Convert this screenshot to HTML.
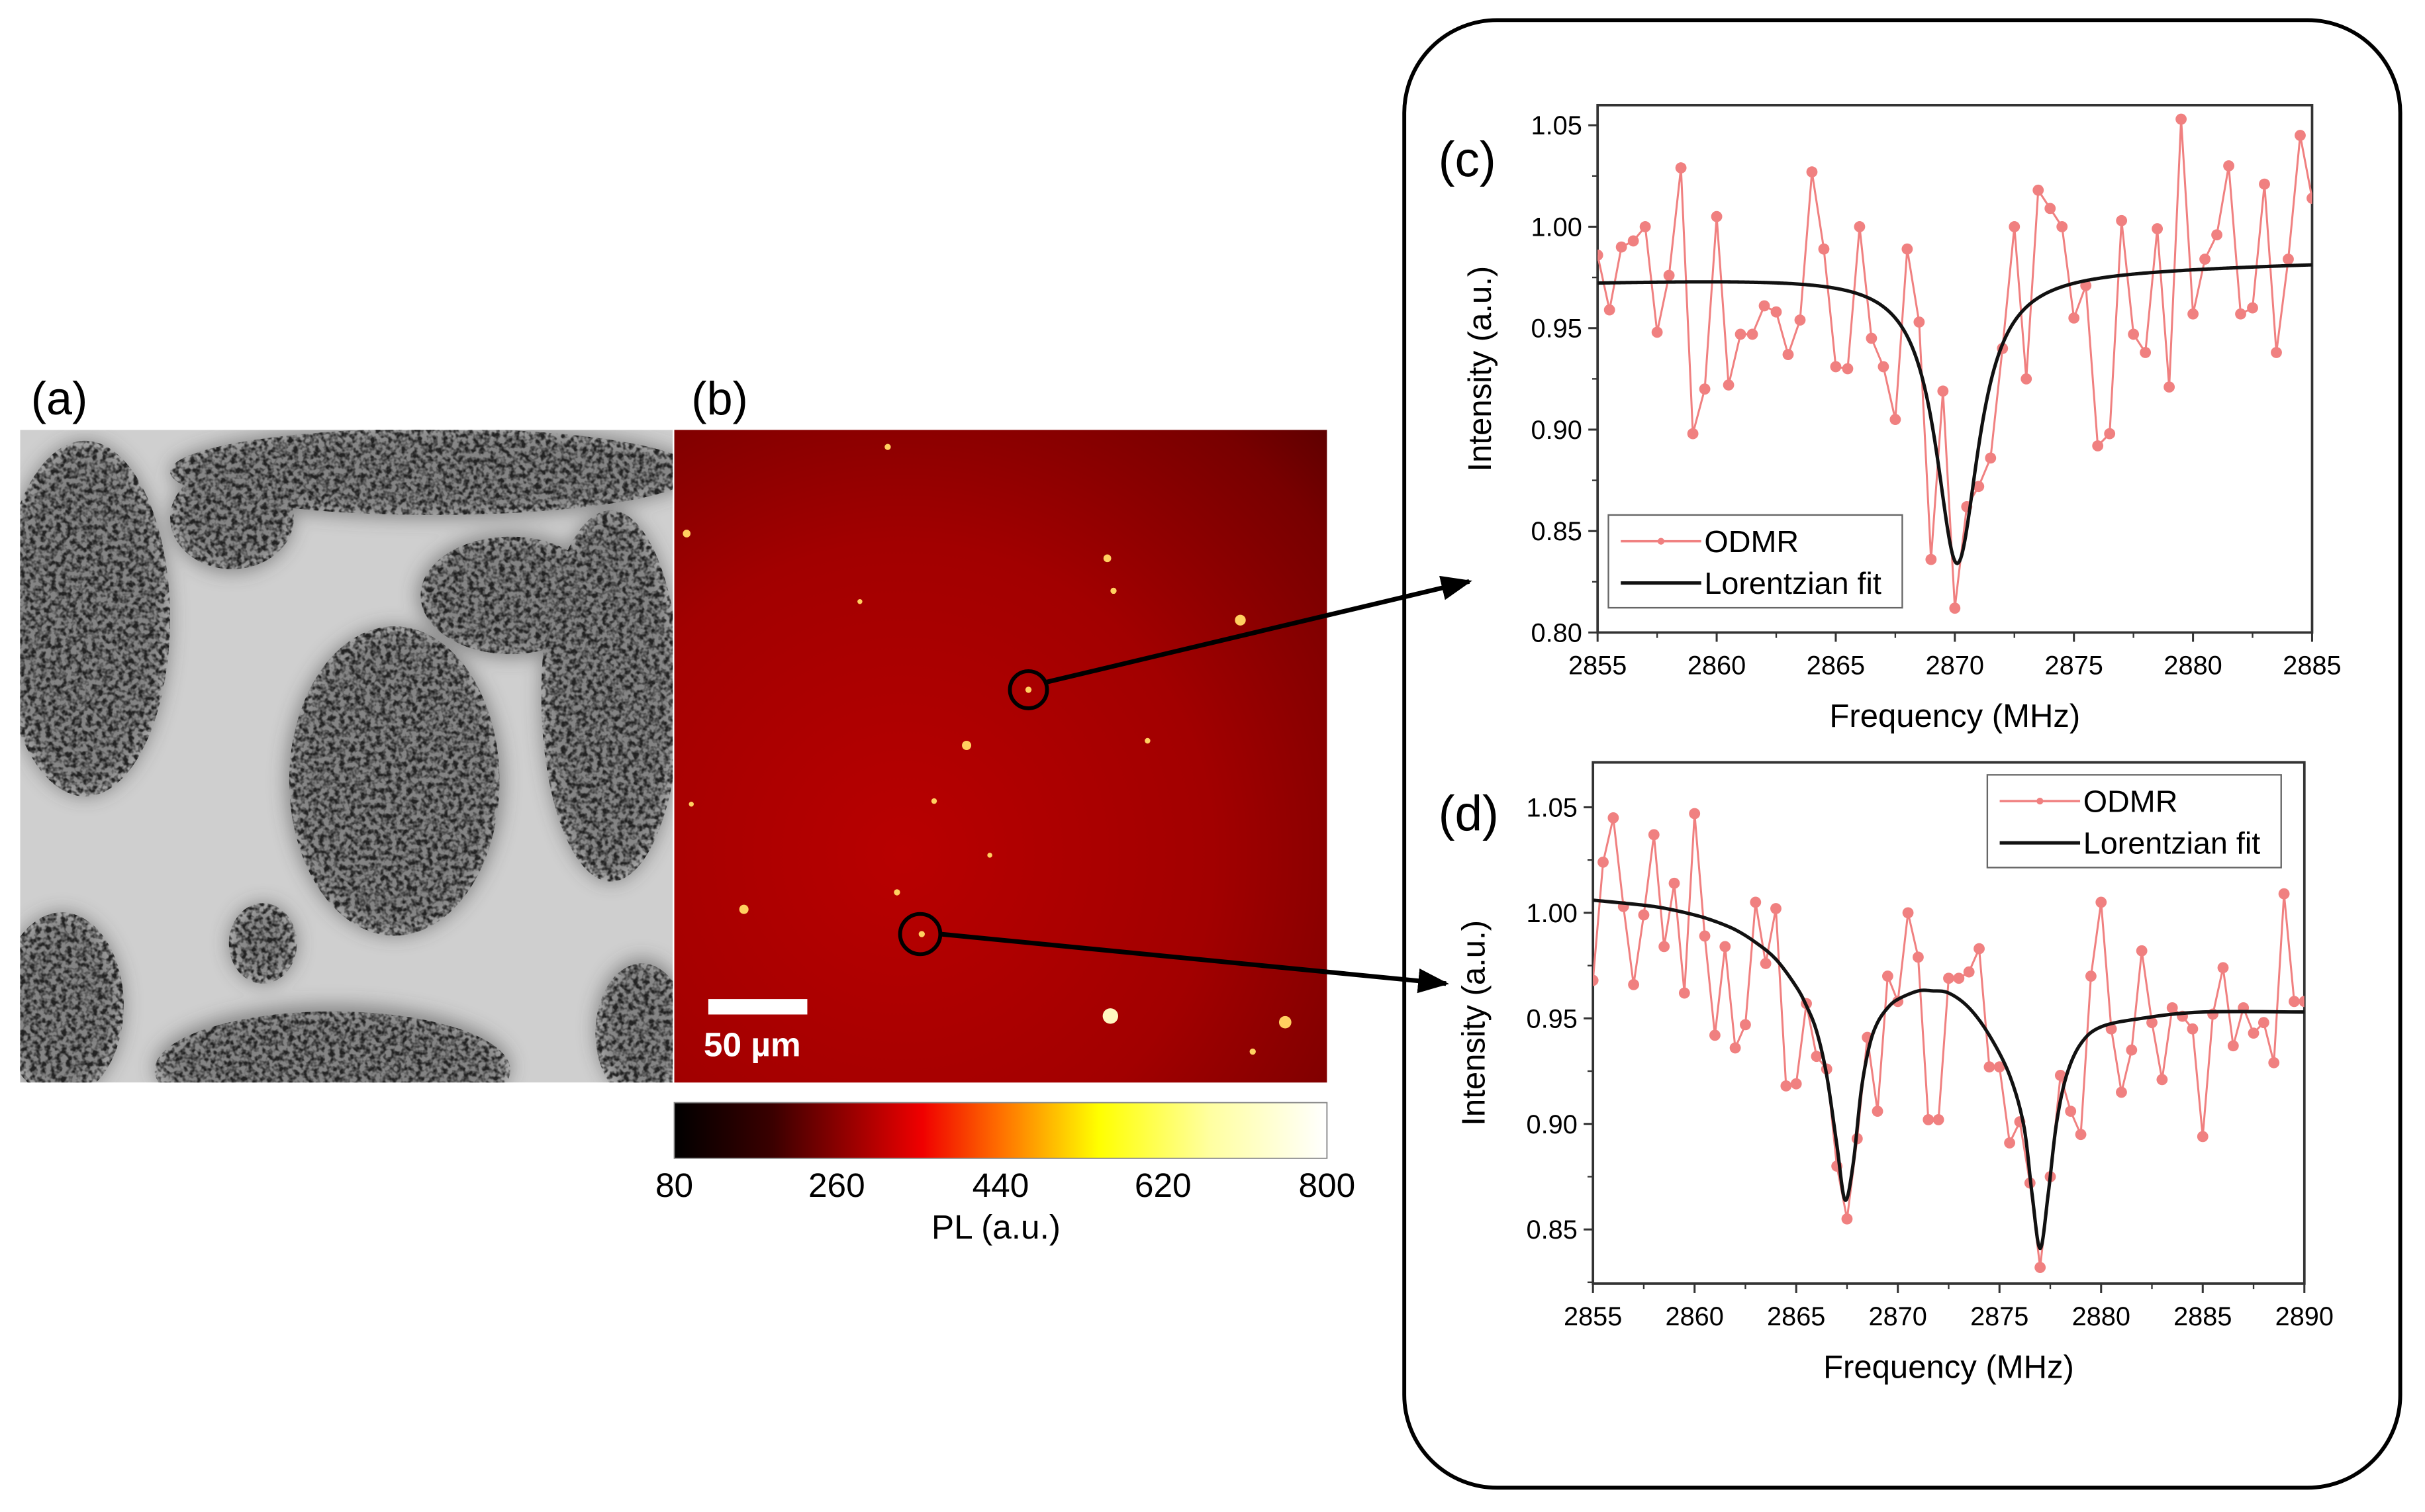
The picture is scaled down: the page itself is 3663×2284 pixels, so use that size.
<!DOCTYPE html>
<html><head><meta charset="utf-8"><style>
html,body{margin:0;padding:0;background:#fff;}
svg{display:block;font-family:"Liberation Sans",Arial,sans-serif;}
</style></head><body>
<svg id="fig" width="3663" height="2284" viewBox="0 0 1568 977.7" preserveAspectRatio="none" xmlns="http://www.w3.org/2000/svg">
<defs>
<filter id="speck" x="0" y="0" width="100%" height="100%">
<feTurbulence type="fractalNoise" baseFrequency="0.3" numOctaves="2" seed="3" result="n"/>
<feColorMatrix in="n" type="matrix" values="0 0 0 0 0  0 0 0 0 0  0 0 0 0 0  0 0 0 -3 1.85" result="m"/>
<feComposite in="SourceGraphic" in2="m" operator="in"/>
</filter>
<filter id="blur3"><feGaussianBlur stdDeviation="6"/></filter>
<radialGradient id="redbg" cx="0.35" cy="0.65" r="0.95">
<stop offset="0" stop-color="#b80000"/><stop offset="0.5" stop-color="#a20000"/><stop offset="0.85" stop-color="#780000"/><stop offset="1" stop-color="#580000"/>
</radialGradient>
<linearGradient id="cbar" x1="0" x2="1" y1="0" y2="0">
<stop offset="0" stop-color="#000"/><stop offset="0.15" stop-color="#3a0000"/><stop offset="0.3" stop-color="#b00000"/>
<stop offset="0.38" stop-color="#f00000"/><stop offset="0.5" stop-color="#ff7000"/><stop offset="0.65" stop-color="#ffff00"/>
<stop offset="0.82" stop-color="#ffffa0"/><stop offset="1" stop-color="#fff"/>
</linearGradient>
<marker id="ah2" markerWidth="20" markerHeight="16" refX="18" refY="8" orient="auto" markerUnits="userSpaceOnUse"><path d="M0,0 L20,8 L0,16 z" fill="#000"/></marker>
<clipPath id="clipA"><rect x="13" y="278" width="422" height="422"/></clipPath>
<clipPath id="clipC"><rect x="1033" y="68" width="462" height="341"/></clipPath>
<clipPath id="clipD"><rect x="1030" y="493" width="460" height="337"/></clipPath>
</defs>

<!-- Panel a -->
<text x="20" y="268" font-size="30">(a)</text>
<g clip-path="url(#clipA)">
<rect x="13" y="278" width="422" height="422" fill="#cfcfcf"/>
<g fill="#3a3a3a" filter="url(#blur3)" opacity="0.5">
<ellipse cx="55" cy="400" rx="55" ry="115"/><ellipse cx="280" cy="305" rx="170" ry="30"/>
<ellipse cx="255" cy="505" rx="70" ry="100"/><ellipse cx="395" cy="450" rx="45" ry="120"/>
<ellipse cx="40" cy="650" rx="40" ry="60"/><ellipse cx="215" cy="690" rx="115" ry="40"/>
<ellipse cx="415" cy="665" rx="30" ry="45"/><ellipse cx="330" cy="385" rx="60" ry="40"/>
<ellipse cx="170" cy="610" rx="22" ry="26"/><ellipse cx="150" cy="335" rx="40" ry="35"/>
</g>
<g fill="#222" filter="url(#speck)">
<ellipse cx="55" cy="400" rx="55" ry="115"/><ellipse cx="280" cy="305" rx="170" ry="28"/>
<ellipse cx="255" cy="505" rx="68" ry="100"/><ellipse cx="395" cy="450" rx="45" ry="120"/>
<ellipse cx="40" cy="650" rx="40" ry="60"/><ellipse cx="215" cy="692" rx="115" ry="38"/>
<ellipse cx="415" cy="668" rx="30" ry="45"/><ellipse cx="330" cy="385" rx="58" ry="38"/>
<ellipse cx="170" cy="610" rx="22" ry="26"/><ellipse cx="150" cy="335" rx="40" ry="33"/>
</g>
</g>

<!-- Panel b -->
<text x="447" y="268" font-size="30">(b)</text>
<g>
<rect x="436" y="278" width="422" height="422" fill="url(#redbg)"/>
<g fill="#ffd060">
<circle cx="718" cy="657" r="5" fill="#fff8c0"/><circle cx="831" cy="661" r="4"/><circle cx="802" cy="401" r="3.5"/>
<circle cx="625" cy="482" r="3"/><circle cx="481" cy="588" r="3"/><circle cx="444" cy="345" r="2.5"/>
<circle cx="716" cy="361" r="2.5"/><circle cx="580" cy="577" r="2"/><circle cx="665" cy="446" r="2"/>
<circle cx="596" cy="604" r="2"/><circle cx="810" cy="680" r="2"/><circle cx="574" cy="289" r="2"/>
<circle cx="720" cy="382" r="2"/><circle cx="604" cy="518" r="1.8"/><circle cx="742" cy="479" r="1.8"/>
<circle cx="556" cy="389" r="1.6"/><circle cx="447" cy="520" r="1.6"/><circle cx="640" cy="553" r="1.6"/>
</g>
<rect x="458" y="646" width="64" height="10" fill="#fff"/>
<text x="455" y="683" font-size="22" font-weight="bold" fill="#fff">50 µm</text>
<circle cx="665" cy="446" r="12" fill="none" stroke="#000" stroke-width="2.5"/>
<circle cx="595" cy="604" r="13" fill="none" stroke="#000" stroke-width="2.5"/>
</g>
<line x1="677" y1="441" x2="950" y2="376" stroke="#000" stroke-width="3" marker-end="url(#ah2)"/>
<line x1="608" y1="604" x2="935" y2="636" stroke="#000" stroke-width="3" marker-end="url(#ah2)"/>

<!-- Colorbar -->
<g>
<rect x="436" y="713" width="422" height="36" fill="url(#cbar)" stroke="#888" stroke-width="0.8"/>
<g font-size="22" text-anchor="middle">
<text x="436" y="774">80</text><text x="541" y="774">260</text><text x="647" y="774">440</text><text x="752" y="774">620</text><text x="858" y="774">800</text>
</g>
<text x="644" y="801" font-size="22" text-anchor="middle">PL (a.u.)</text>
</g>

<rect x="908" y="13" width="644" height="949" rx="60" ry="60" fill="none" stroke="#000" stroke-width="2.5"/>
<text x="930" y="114" font-size="32">(c)</text>
<text x="930" y="537" font-size="32">(d)</text>
<g id="chartC"></g>
<g id="chartD"></g>
</svg>
<script>
// ---- Chart C data ----
const cFreqStart = 2855, cFreqStep = 0.5;
const cValues = [0.986,0.959,0.990,0.993,1.000,0.948,0.976,1.029,0.898,0.920,1.005,0.922,0.947,0.947,0.961,0.958,0.937,0.954,1.027,0.989,0.931,0.930,1.000,0.945,0.931,0.905,0.989,0.953,0.836,0.919,0.812,0.862,0.872,0.886,0.940,1.000,0.925,1.018,1.009,1.000,0.955,0.971,0.892,0.898,1.003,0.947,0.938,0.999,0.921,1.053,0.957,0.984,0.996,1.030,0.957,0.960,1.021,0.938,0.984,1.045,1.014];
const cFitCenter = [2870.1];
const cFitDepth = [0.1435];
const cFitHwhm = [1.1];
const cFitBase = [0.973, 0.982];
const cXTicks = [2855,2860,2865,2870,2875,2880,2885];
const cYTicks = [0.80,0.85,0.90,0.95,1.00,1.05];
// ---- Chart D data ----
const dFreqStart = 2855, dFreqStep = 0.5;
const dValues = [0.968,1.024,1.045,1.003,0.966,0.999,1.037,0.984,1.014,0.962,1.047,0.989,0.942,0.984,0.936,0.947,1.005,0.976,1.002,0.918,0.919,0.957,0.932,0.926,0.880,0.855,0.893,0.941,0.906,0.970,0.958,1.000,0.979,0.902,0.902,0.969,0.969,0.972,0.983,0.927,0.927,0.891,0.901,0.872,0.832,0.875,0.923,0.906,0.895,0.970,1.005,0.945,0.915,0.935,0.982,0.948,0.921,0.955,0.951,0.945,0.894,0.952,0.974,0.937,0.955,0.943,0.948,0.929,1.009,0.958,0.958];
const dFitX = [2855,2858,2860,2861,2862,2863,2864,2865,2865.5,2866,2866.5,2867,2867.4,2867.8,2868.2,2868.6,2869,2869.5,2870,2871,2871.7,2872.5,2873.5,2874.5,2875.5,2876.2,2876.6,2877,2877.4,2877.8,2878.3,2879,2880,2882,2885,2890];
const dFitY = [1.006,1.003,0.999,0.996,0.992,0.986,0.978,0.965,0.956,0.944,0.923,0.890,0.864,0.881,0.916,0.937,0.948,0.955,0.959,0.963,0.963,0.962,0.955,0.942,0.923,0.899,0.867,0.841,0.867,0.900,0.923,0.938,0.946,0.950,0.953,0.953];
const dXTicks = [2855,2860,2865,2870,2875,2880,2885,2890];
const dYTicks = [0.85,0.90,0.95,1.00,1.05];

const NS = "http://www.w3.org/2000/svg";
function mk(parent, tag, attrs, text){
  const e = document.createElementNS(NS, tag);
  for (const k in attrs) e.setAttribute(k, attrs[k]);
  if (text !== undefined) e.textContent = text;
  parent.appendChild(e);
  return e;
}
function lorentz(x){
  const t = (x - cFreqStart) / 30;
  let y = cFitBase[0] + (cFitBase[1] - cFitBase[0]) * t;
  for (let i = 0; i < cFitCenter.length; i++) {
    const u = (x - cFitCenter[i]) / cFitHwhm[i];
    y -= cFitDepth[i] / (1 + u * u);
  }
  return y;
}
function smoothPath(pts){
  let d = "M" + pts[0][0].toFixed(2) + "," + pts[0][1].toFixed(2);
  for (let i = 0; i < pts.length - 1; i++) {
    const p0 = pts[Math.max(0, i - 1)], p1 = pts[i], p2 = pts[i + 1], p3 = pts[Math.min(pts.length - 1, i + 2)];
    const c1 = [p1[0] + (p2[0] - p0[0]) / 6, p1[1] + (p2[1] - p0[1]) / 6];
    const c2 = [p2[0] - (p3[0] - p1[0]) / 6, p2[1] - (p3[1] - p1[1]) / 6];
    d += " C" + c1.join(",") + " " + c2.join(",") + " " + p2[0] + "," + p2[1];
  }
  return d;
}
function drawChart(g, cfg){
  const X = v => cfg.x0 + (v - cfg.xmin) / (cfg.xmax - cfg.xmin) * (cfg.x1 - cfg.x0);
  const Y = v => cfg.yAt0 + (v - cfg.yv0) / (cfg.yv1 - cfg.yv0) * (cfg.yAt1 - cfg.yAt0);
  const frame = mk(g, "rect", {x: cfg.x0, y: cfg.top, width: cfg.x1 - cfg.x0, height: cfg.bottom - cfg.top, fill: "none", stroke: "#333", "stroke-width": 1.6});
  
  
  const xa = mk(g, "g", {"font-size": 17, "text-anchor": "middle"});
  
  
  cfg.xticks.forEach((t, i) => {
    const px = X(t);
    mk(xa, "line", {x1: px, x2: px, y1: cfg.bottom, y2: cfg.bottom + 6, stroke: "#333", "stroke-width": 1.3});
    if (i < cfg.xticks.length - 1) {
      const pm = X(t + 2.5);
      mk(xa, "line", {x1: pm, x2: pm, y1: cfg.bottom, y2: cfg.bottom + 3.5, stroke: "#333", "stroke-width": 1});
    }
    const lb = mk(xa, "text", {x: px, y: cfg.bottom + 27}, String(t));
    
    
  });
  const ya = mk(g, "g", {"font-size": 17, "text-anchor": "end"});
  
  
  cfg.yticks.forEach((t, i) => {
    const py = Y(t);
    mk(ya, "line", {x1: cfg.x0 - 6, x2: cfg.x0, y1: py, y2: py, stroke: "#333", "stroke-width": 1.3});
    const pm = Y(t - 0.025);
    if (pm < cfg.bottom) mk(ya, "line", {x1: cfg.x0 - 3.5, x2: cfg.x0, y1: pm, y2: pm, stroke: "#333", "stroke-width": 1});
    const lb = mk(ya, "text", {x: cfg.x0 - 10, y: py + 6}, t.toFixed(2));
    
    
  });
  const xt = mk(g, "text", {x: (cfg.x0 + cfg.x1) / 2, y: cfg.bottom + 61, "font-size": 21, "text-anchor": "middle"}, "Frequency (MHz)");
  
  
  const yc = (cfg.top + cfg.bottom) / 2;
  const yt = mk(g, "text", {x: cfg.ytx, y: yc, "font-size": 21, "text-anchor": "middle", transform: "rotate(-90 " + cfg.ytx + " " + yc + ")"}, "Intensity (a.u.)");
  
  
  const plot = mk(g, "g", {"clip-path": cfg.clip});
  const pts = cfg.values.map((v, i) => [X(cfg.fs + i * cfg.step), Y(v)]);
  const ln = mk(plot, "polyline", {points: pts.map(p => p.join(",")).join(" "), fill: "none", stroke: "#f08080", "stroke-width": 1.3});
  
  
  pts.forEach(p => {
    const c = mk(plot, "circle", {cx: p[0], cy: p[1], r: 3.6, fill: "#f08080"});
    
    
  });
  const fitPts = cfg.fitPts.map(p => [X(p[0]), Y(p[1])]);
  const fp = mk(plot, "path", {d: cfg.smooth ? smoothPath(fitPts) : "M" + fitPts.map(p => p.join(",")).join(" L"), fill: "none", stroke: "#111", "stroke-width": 2.2});
  
  
  const L = cfg.leg;
  const lg = mk(g, "g", {});
  
  
  mk(lg, "rect", {x: L.x, y: L.y, width: 190, height: 60, fill: "#fff", stroke: "#666", "stroke-width": 1});
  mk(lg, "line", {x1: L.x + 8, x2: L.x + 60, y1: L.y + 17, y2: L.y + 17, stroke: "#f08080", "stroke-width": 1.5});
  mk(lg, "circle", {cx: L.x + 34, cy: L.y + 17, r: 2.2, fill: "#f08080"});
  const t1 = mk(lg, "text", {x: L.x + 62, y: L.y + 24, "font-size": 20}, "ODMR");
  
  
  mk(lg, "line", {x1: L.x + 8, x2: L.x + 60, y1: L.y + 44, y2: L.y + 44, stroke: "#111", "stroke-width": 2.2});
  const t2 = mk(lg, "text", {x: L.x + 62, y: L.y + 51, "font-size": 20}, "Lorentzian fit");
  
  
}
const cFitPts = [];
for (let x = 2855; x <= 2885.0001; x += 0.05) cFitPts.push([x, lorentz(x)]);
drawChart(document.getElementById("chartC"), {
  x0: 1033, x1: 1495, top: 68, bottom: 409, xmin: 2855, xmax: 2885,
  yv0: 0.80, yAt0: 409, yv1: 1.05, yAt1: 81, xticks: cXTicks, yticks: cYTicks,
  values: cValues, fs: cFreqStart, step: cFreqStep, fitPts: cFitPts, smooth: false,
  clip: "url(#clipC)", ytx: 964, leg: {x: 1040, y: 333}
});
drawChart(document.getElementById("chartD"), {
  x0: 1030, x1: 1490, top: 493, bottom: 830, xmin: 2855, xmax: 2890,
  yv0: 0.85, yAt0: 795, yv1: 1.05, yAt1: 522, xticks: dXTicks, yticks: dYTicks,
  values: dValues, fs: dFreqStart, step: dFreqStep, fitPts: dFitX.map((x, i) => [x, dFitY[i]]), smooth: true,
  clip: "url(#clipD)", ytx: 960, leg: {x: 1285, y: 501}
});
</script>
</body></html>
